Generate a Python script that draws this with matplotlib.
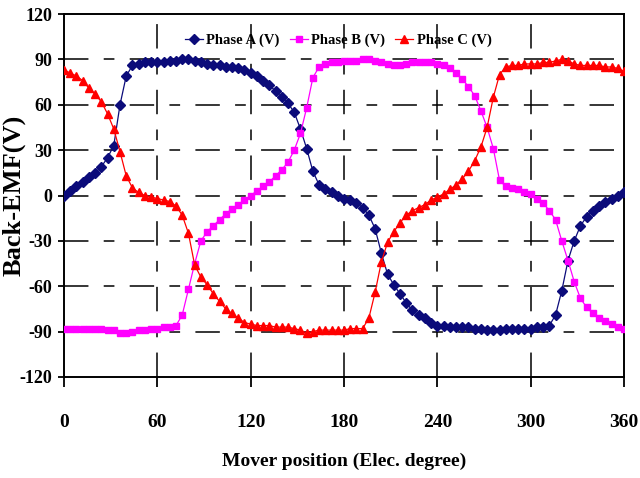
import numpy as np
import matplotlib
matplotlib.use("Agg")
import matplotlib.pyplot as plt

plt.rcParams['font.family'] = ['Liberation Serif', 'DejaVu Serif']
plt.rcParams['font.weight'] = 'bold'
plt.rcParams['axes.unicode_minus'] = False

# mover position, every 4 electrical degrees
pos = np.arange(0, 361, 4)

phase_a = [0, 3, 6, 9, 12, 15, 19, 25, 33, 60, 79, 86, 87, 88, 88, 88, 88, 89, 89, 90,
           90, 89, 88, 87, 86, 86, 85, 85, 84, 83, 81, 79, 76, 73, 69, 65, 61, 55, 44, 31,
           16, 7, 4, 2, 0, -2, -3, -5, -8, -13, -22, -38, -52, -59, -65, -71, -76, -79, -81, -84,
           -86, -86, -87, -87, -87, -87, -88, -88, -89, -89, -89, -88, -88, -88, -88, -88, -87, -87, -86, -79,
           -63, -43, -30, -20, -14, -10, -7, -4, -2, 0, 2]

phase_b = [-88, -88, -88, -88, -88, -88, -88, -89, -89, -91, -91, -90, -89, -89, -88, -88, -87, -87, -86, -79,
           -62, -45, -30, -24, -20, -16, -12, -9, -6, -3, 0, 3, 6, 9, 13, 17, 22, 30, 41, 58,
           78, 85, 87, 88, 88, 89, 89, 89, 90, 90, 89, 88, 87, 86, 86, 87, 88, 88, 88, 88,
           87, 86, 84, 81, 77, 72, 66, 56, 45, 31, 10, 6, 5, 4, 2, 1, -2, -5, -10, -16,
           -30, -43, -57, -68, -74, -78, -81, -83, -85, -87, -88]

phase_c = [83, 81, 79, 76, 71, 67, 62, 54, 44, 29, 13, 5, 2, 0, -1, -2, -3, -4, -7, -13,
           -25, -46, -54, -59, -65, -70, -75, -78, -81, -84, -85, -86, -86, -86, -87, -87, -87, -88, -89, -91,
           -90, -89, -89, -89, -89, -89, -88, -88, -88, -81, -64, -44, -31, -24, -18, -13, -10, -8, -6, -3,
           -1, 1, 4, 7, 11, 16, 23, 32, 45, 65, 80, 85, 86, 86, 87, 87, 87, 88, 88, 89,
           90, 89, 87, 86, 86, 86, 86, 85, 85, 84, 82]

xticks = [0, 60, 120, 180, 240, 300, 360]
yticks = [-120, -90, -60, -30, 0, 30, 60, 90, 120]

fig = plt.figure(figsize=(6.4, 4.78), dpi=100)
ax = fig.add_axes([0.1, 0.2113, 0.875, 0.7594])

# dashed grid, long-short pattern like the excel original
for yv in yticks[1:-1]:
    ax.axhline(yv, color='k', lw=1.1, dashes=(16, 10, 7, 10), zorder=1)
for xv in xticks[1:-1]:
    ax.axvline(xv, color='k', lw=1.1, dashes=(16, 10, 7, 10), zorder=1)

ax.plot(pos, phase_a, color='#0b0b7a', lw=0.9, marker='D', ms=4.8, label='Phase A (V)', zorder=3)
ax.plot(pos, phase_b, color='#ff00ff', lw=0.9, marker='s', ms=4.8, label='Phase B (V)', zorder=3)
ax.plot(pos, phase_c, color='#ff0000', lw=0.9, marker='^', ms=5.7, label='Phase C (V)', zorder=3)

ax.set_xlim(0, 360)
ax.set_ylim(-120, 120)
ax.set_xticks(xticks)
ax.set_yticks(yticks)
ax.tick_params(axis='x', direction='out', length=7, width=1.3, pad=20, labelsize=14)
ax.tick_params(axis='y', direction='out', length=4.5, width=1.3, pad=4, labelsize=13)
for sp in ax.spines.values():
    sp.set_linewidth(1.4)

ax.set_xlabel("Mover position (Elec. degree)", fontsize=14, fontweight='bold', labelpad=15)
ax.set_ylabel("Back-EMF(V)", fontsize=19, fontweight='bold')
ax.yaxis.set_label_coords(-0.068, 0.5)

ax.legend(loc='center', bbox_to_anchor=(0.49, 0.928), ncol=3, frameon=False,
          handlelength=1.2, handletextpad=0.25, columnspacing=0.7,
          prop={'weight': 'bold', 'size': 10.5})

fig.savefig("out.png", dpi=100)
